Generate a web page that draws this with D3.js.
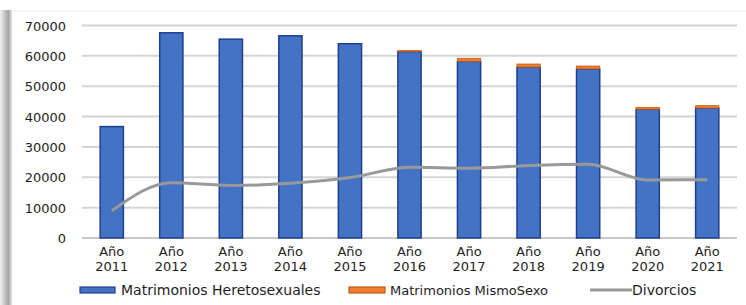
<!DOCTYPE html>
<html>
<head>
<meta charset="utf-8">
<script src="https://cdn.jsdelivr.net/npm/d3@7"></script>
<style>
  body { margin: 0; background: #fff; }
  svg { display: block; }
  text { font-family: "DejaVu Sans", Verdana, sans-serif; fill: #1e1e1e; }
</style>
</head>
<body>
<div id="chart"></div>
<script>
// datos
var anios = ["2011","2012","2013","2014","2015","2016","2017","2018","2019","2020","2021"];
var hetero = [36700, 67600, 65500, 66600, 64000, 61400, 58200, 56300, 55700, 42400, 42800];
var mismoSexo = [0, 0, 0, 0, 0, 330, 1000, 1000, 950, 600, 800];
var divorcios = [9000, 18200, 17300, 18000, 19900, 23300, 23000, 23900, 24300, 19100, 19200];
var yTicks = [0, 10000, 20000, 30000, 40000, 50000, 60000, 70000];
var series = ["Matrimonios Heretosexuales", "Matrimonios MismoSexo", "Divorcios"];

var W = 746, H = 305;
var svg = d3.select("#chart").append("svg").attr("width", W).attr("height", H);

// sombra del marco izquierdo
var defs = svg.append("defs");
var grad = defs.append("linearGradient").attr("id", "sombra");
grad.append("stop").attr("offset", "0%").attr("stop-color", "#f2f2f2");
grad.append("stop").attr("offset", "70%").attr("stop-color", "#a4a4a4");
grad.append("stop").attr("offset", "100%").attr("stop-color", "#e6e6e6");
svg.append("rect").attr("x", 0).attr("y", 10).attr("width", 12).attr("height", H - 10)
  .attr("fill", "url(#sombra)");
svg.append("rect").attr("x", 12).attr("y", 10).attr("width", W - 12).attr("height", 2)
  .attr("fill", "#f6f6f6");

var x = d3.scaleBand().domain(anios).range([82, 737]).paddingInner(0.61).paddingOuter(0.305);
var y = d3.scaleLinear().domain([0, 70000]).range([238, 25.5]);

// rejilla
svg.selectAll("line.grid").data(yTicks).enter().append("line")
  .attr("class", "grid")
  .attr("x1", 82).attr("x2", 737)
  .attr("y1", function(d){ return y(d); }).attr("y2", function(d){ return y(d); })
  .attr("stroke", function(d){ return d === 0 ? "#c8c8c8" : "#d4d4d4"; })
  .attr("stroke-width", 2);

// eje y
svg.selectAll("text.ylab").data(yTicks).enter().append("text")
  .attr("class", "ylab")
  .attr("x", 66).attr("y", function(d){ return y(d) + 5; })
  .attr("text-anchor", "end").attr("font-size", 13)
  .text(function(d){ return d; });

// eje x
var xl = svg.selectAll("text.xlab").data(anios).enter().append("text")
  .attr("class", "xlab")
  .attr("text-anchor", "middle").attr("font-size", 13)
  .attr("transform", function(d){ return "translate(" + (x(d) + x.bandwidth() / 2) + ",0)"; });
xl.append("tspan").attr("x", 0).attr("y", 256).text("Año");
xl.append("tspan").attr("x", 0).attr("y", 271).text(function(d){ return d; });

// barras
var apiladas = anios.map(function(a, i){
  return { anio: a, h: hetero[i], m: mismoSexo[i] };
});
svg.selectAll("rect.het").data(apiladas).enter().append("rect")
  .attr("class", "het")
  .attr("x", function(d){ return x(d.anio); })
  .attr("y", function(d){ return y(d.h); })
  .attr("width", x.bandwidth())
  .attr("height", function(d){ return y(0) - y(d.h); })
  .attr("fill", "#4472C4").attr("stroke", "#1f3f91").attr("stroke-width", 1.5);
svg.selectAll("rect.ms").data(apiladas.filter(function(d){ return d.m > 0; })).enter().append("rect")
  .attr("class", "ms")
  .attr("x", function(d){ return x(d.anio); })
  .attr("y", function(d){ return y(d.h + d.m); })
  .attr("width", x.bandwidth())
  .attr("height", function(d){ return y(d.h) - y(d.h + d.m); })
  .attr("fill", "#ED7D31").attr("stroke", "#c55a11").attr("stroke-width", 0.8);

// linea divorcios
var linea = d3.line()
  .x(function(d, i){ return x(anios[i]) + x.bandwidth() / 2; })
  .y(function(d){ return y(d); })
  .curve(d3.curveMonotoneX);
svg.append("path").datum(divorcios)
  .attr("d", linea).attr("fill", "none")
  .attr("stroke", "#999").attr("stroke-width", 3).attr("stroke-linejoin", "round");

// leyenda
var ly = 290;
svg.append("rect").attr("x", 80).attr("y", ly - 3).attr("width", 35).attr("height", 6)
  .attr("fill", "#4472C4").attr("stroke", "#1f3f91").attr("stroke-width", 1.2);
svg.append("text").attr("x", 121).attr("y", ly + 5).attr("font-size", 14).text(series[0]);
svg.append("rect").attr("x", 349).attr("y", ly - 3).attr("width", 36).attr("height", 6)
  .attr("fill", "#ED7D31").attr("stroke", "#c55a11").attr("stroke-width", 1.2);
svg.append("text").attr("x", 390).attr("y", ly + 5).attr("font-size", 13).text(series[1]);
svg.append("line").attr("x1", 590).attr("x2", 632).attr("y1", ly).attr("y2", ly)
  .attr("stroke", "#999").attr("stroke-width", 3);
svg.append("text").attr("x", 632).attr("y", ly + 5).attr("font-size", 14).text(series[2]);
</script>
</body>
</html>
